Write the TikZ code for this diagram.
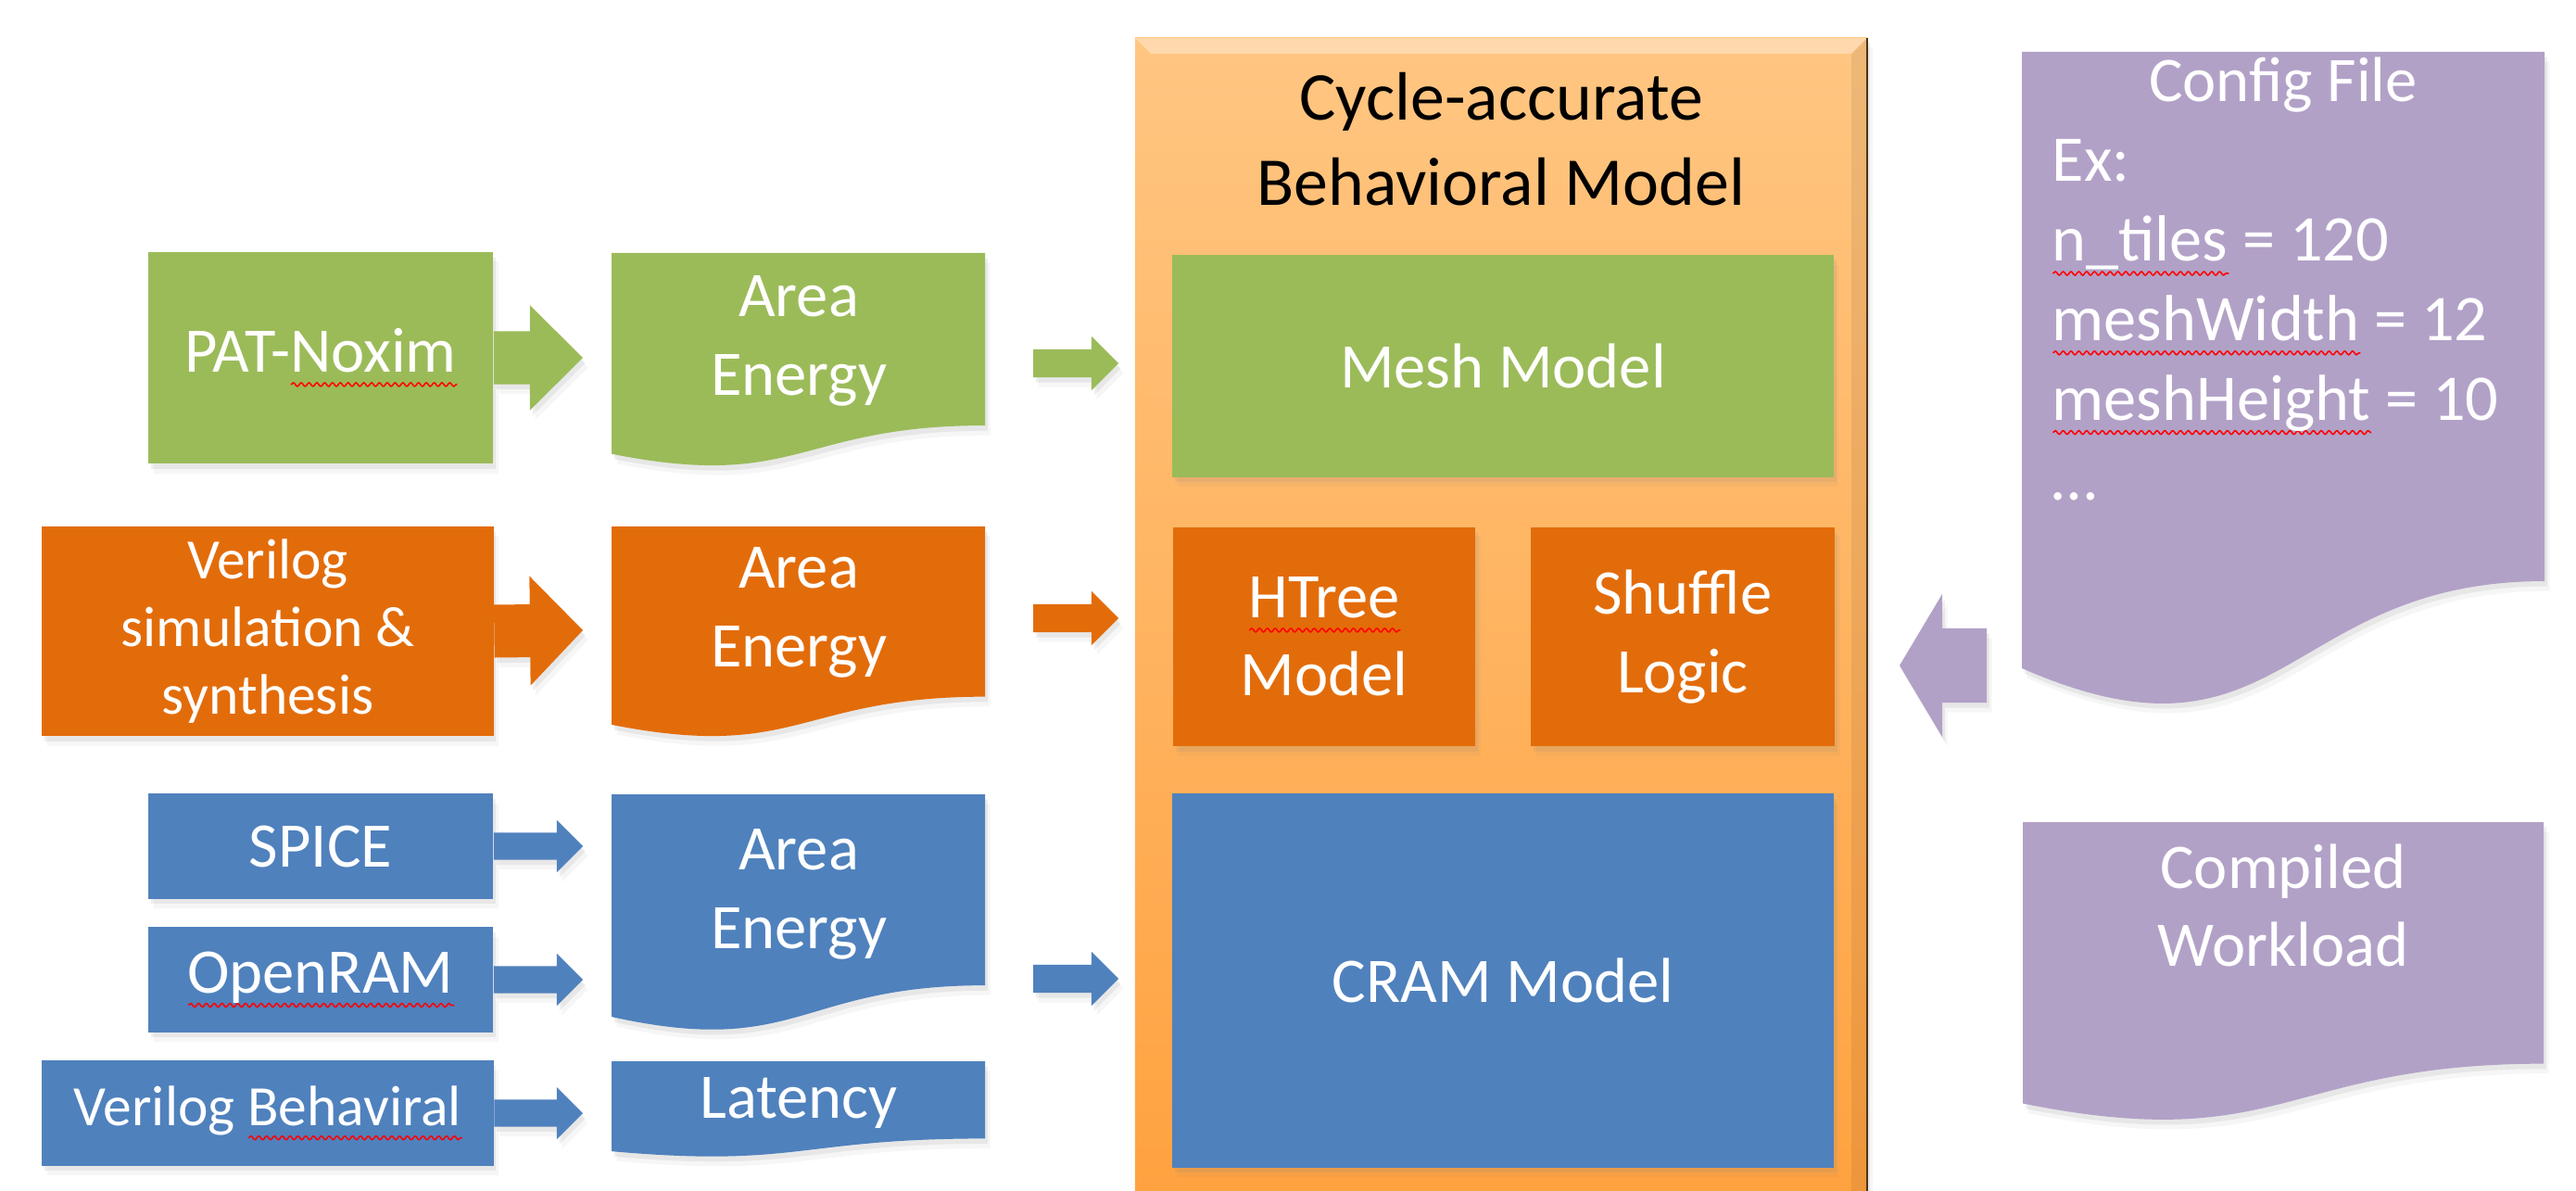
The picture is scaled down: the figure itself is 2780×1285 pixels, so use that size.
\documentclass[tikz,border=0pt]{standalone}
\usepackage{fontspec}
\setmainfont{Carlito}
\usepackage{tikz}
\usetikzlibrary{calc, shadows, decorations.pathmorphing}
\definecolor{BoxGreen}{RGB}{155, 187, 89}
\definecolor{BoxOrange}{RGB}{227, 108, 10}
\definecolor{BoxBlue}{RGB}{79, 129, 189}
\definecolor{BoxPurple}{RGB}{178, 161, 199}
\definecolor{ModelTop}{RGB}{255, 198, 130}
\definecolor{ModelBot}{RGB}{255, 162, 64}

% red spell-check wave under a word
\newsavebox{\typobox}
\newcommand{\typo}[1]{\sbox{\typobox}{#1}\rlap{\tikz[baseline=0pt]\draw[red, line width=0.45pt, decorate,
  decoration={snake, amplitude=0.55pt, segment length=2.4pt}] (0pt,-3.8pt) -- (\the\wd\typobox,-3.8pt);}#1}

% document shape: left, top, width, height, colour
\newcommand{\docshape}[5]{%
  \fill[#5, sh] (#1,#2) -- ({#1+#3},#2) -- ({#1+#3},{#2+0.802*#4})
    .. controls ({#1+0.5*#3},{#2+0.802*#4}) and ({#1+0.5*#3},{#2+1.1075*#4}) .. (#1,{#2+0.934*#4}) -- cycle;}

% block arrow: from, tip, half shaft, half head, head length, colour
\newcommand{\blockarrow}[6]{%
  \path ($(#2)!#5!(#1)$) coordinate (hb);
  \fill[#6, sh] ($(#1)!#3!90:(#2)$) -- ($(hb)!#3!-90:(#1)$) -- ($(hb)!#4!-90:(#1)$)
    -- (#2) -- ($(hb)!#4!90:(#1)$) -- ($(hb)!#3!90:(#1)$) -- ($(#1)!#3!-90:(#2)$) -- cycle;}

\tikzset{
  sh/.style={drop shadow={shadow xshift=1.6pt, shadow yshift=-3pt, opacity=0.07},
    drop shadow={shadow xshift=0.8pt, shadow yshift=-1.6pt, opacity=0.12}},
  box/.style={rectangle, inner sep=2pt, align=center, text=white, sh,
    font=\fontsize{19.5}{24}\selectfont},
  doctext/.style={inner sep=0pt, align=center, text=white,
    font=\fontsize{19.5}{24}\selectfont},
}

\begin{document}
\begin{tikzpicture}[x=0.01cm, y=-0.01cm]
    \useasboundingbox (0,0) rectangle (2780,1285);
    \fill[white] (0,0) rectangle (2780,1285);

    % Simulator
    \node[minimum width=7.90cm, minimum height=12.44cm, inner sep=0pt,
      top color=ModelTop, bottom color=ModelBot, sh] (sim) at (1620,663) {};
    \fill[white, opacity=0.35] (1225,41) -- (2015,41) -- (1998,58) -- (1242,58) -- cycle;
    \fill[black, opacity=0.07] (2015,41) -- (2015,1285) -- (1998,1285) -- (1998,58) -- cycle;
    \draw[black!60!brown, line width=0.8pt] (2015,41) -- (2015,1285);
    \node[align=center, font=\fontsize{21}{26}\selectfont] (simtitle) at (1620,150)
      {Cycle-accurate\\Behavioral Model};
    \node[box, fill=BoxGreen, minimum width=7.13cm, minimum height=2.39cm] (mesh) at (1622,395) {Mesh Model};
    \node[box, fill=BoxOrange, minimum width=3.26cm, minimum height=2.36cm] (htree) at (1429,687) {\typo{HTree}\\Model};
    \node[box, fill=BoxOrange, minimum width=3.28cm, minimum height=2.36cm] (shuffle) at (1816,687) {Shuffle\\Logic};
    \node[box, fill=BoxBlue, minimum width=7.13cm, minimum height=4.03cm] (cram) at (1622,1058) {CRAM Model};

    % Green row
    \node[box, fill=BoxGreen, minimum width=3.72cm, minimum height=2.28cm] (pat) at (346,386) {PAT-\typo{Noxim}};
    \docshape{660}{273}{403}{232}{BoxGreen}
    \node[doctext] (gdoc) at (862,368) {Area\\Energy};
    \coordinate (gin) at (629,386);
    \blockarrow{pat.east}{gin}{0.285cm}{0.565cm}{0.57cm}{BoxGreen}
    \coordinate (gs) at (1115,392);
    \coordinate (gt) at (1207,392);
    \blockarrow{gs}{gt}{0.15cm}{0.29cm}{0.29cm}{BoxGreen}

    % Orange row
    \node[box, fill=BoxOrange, minimum width=4.87cm, minimum height=2.26cm,
      font=\fontsize{17.5}{20.8}\selectfont] (vsim) at (289,681) {Verilog\\simulation \&\\synthesis};
    \docshape{660}{568}{403}{229}{BoxOrange}
    \node[doctext] (odoc) at (862,661) {Area\\Energy};
    \coordinate (oin) at (629,680);
    \blockarrow{vsim.east}{oin}{0.285cm}{0.59cm}{0.57cm}{BoxOrange}
    \coordinate (os) at (1115,667);
    \coordinate (ot) at (1207,667);
    \blockarrow{os}{ot}{0.15cm}{0.29cm}{0.29cm}{BoxOrange}

    % Blue rows
    \node[box, fill=BoxBlue, minimum width=3.72cm, minimum height=1.13cm] (spice) at (346,913) {SPICE};
    \node[box, fill=BoxBlue, minimum width=3.72cm, minimum height=1.13cm] (openram) at (346,1057) {\typo{OpenRAM}};
    \node[box, fill=BoxBlue, minimum width=4.87cm, minimum height=1.13cm,
      font=\fontsize{17.5}{20.8}\selectfont] (vbeh) at (289,1201) {Verilog \typo{Behaviral}};
    \docshape{660}{857}{403}{257}{BoxBlue}
    \node[doctext] (bdoc) at (862,965) {Area\\Energy};
    \docshape{660}{1145}{403}{104}{BoxBlue}
    \node[doctext] (latdoc) at (862,1190) {Latency};
    \coordinate (sin) at (629,913);
    \coordinate (rin) at (629,1057);
    \coordinate (vin) at (629,1201);
    \blockarrow{spice.east}{sin}{0.145cm}{0.28cm}{0.28cm}{BoxBlue}
    \blockarrow{openram.east}{rin}{0.145cm}{0.28cm}{0.28cm}{BoxBlue}
    \blockarrow{vbeh.east}{vin}{0.145cm}{0.28cm}{0.28cm}{BoxBlue}
    \coordinate (bs) at (1115,1056);
    \coordinate (bt) at (1207,1056);
    \blockarrow{bs}{bt}{0.15cm}{0.29cm}{0.29cm}{BoxBlue}

    % Inputs
    \docshape{2182}{56}{564}{712}{BoxPurple}
    \node[doctext] (cfgtitle) at (2464,92) {Config File};
    \node[doctext, anchor=north west, align=left, font=\fontsize{20}{24.4}\selectfont] (cfgbody) at (2214,150)
      {Ex:\\\typo{n\_tiles} = 120\\\typo{meshWidth} = 12\\\typo{meshHeight} = 10\\\ldots};
    \coordinate (ps) at (2144,718);
    \coordinate (pt) at (2050,718);
    \blockarrow{ps}{pt}{0.40cm}{0.77cm}{0.46cm}{BoxPurple}
    \docshape{2183}{887}{562}{325}{BoxPurple}
    \node[doctext] (wload) at (2464,977) {Compiled\\Workload};
\end{tikzpicture}
\end{document}
